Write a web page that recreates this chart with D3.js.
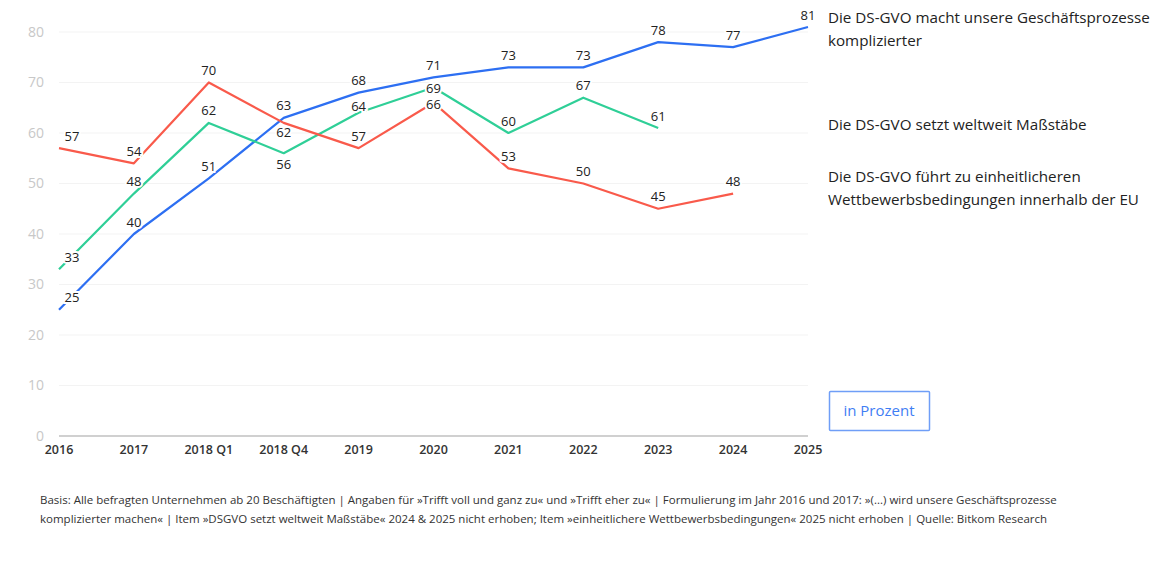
<!DOCTYPE html>
<html>
<head>
<meta charset="utf-8">
<script src="https://cdn.jsdelivr.net/npm/d3@7"></script>
<style>
  body { margin: 0; background: #fff; }
  svg { display: block; font-family: "Open Sans", sans-serif; }
</style>
</head>
<body>
<svg id="chart" width="1172" height="565"></svg>
<script>
const categories = ['2016', '2017', '2018 Q1', '2018 Q4', '2019', '2020', '2021', '2022', '2023', '2024', '2025'];
const komplizierter = [25, 40, 51, 63, 68, 71, 73, 73, 78, 77, 81];
const massstaebe = [33, 48, 62, 56, 64, 69, 60, 67, 61, null, null];
const einheitlich = [57, 54, 70, 62, 57, 66, 53, 50, 45, 48, null];
const yTicks = [0, 10, 20, 30, 40, 50, 60, 70, 80];

const seriesNames = [
  ['Die DS-GVO macht unsere Geschäftsprozesse', 'komplizierter'],
  ['Die DS-GVO setzt weltweit Maßstäbe'],
  ['Die DS-GVO führt zu einheitlicheren', 'Wettbewerbsbedingungen innerhalb der EU']
];
const footnote = [
  'Basis: Alle befragten Unternehmen ab 20 Beschäftigten | Angaben für »Trifft voll und ganz zu« und »Trifft eher zu« | Formulierung im Jahr 2016 und 2017: »(...) wird unsere Geschäftsprozesse',
  'komplizierter machen« | Item »DSGVO setzt weltweit Maßstäbe« 2024 & 2025 nicht erhoben; Item »einheitlichere Wettbewerbsbedingungen« 2025 nicht erhoben | Quelle: Bitkom Research'
];

// Label-Versatz in px (Standard: -12 = über dem Punkt)
const series = [
  { values: komplizierter, color: '#2d6ff2', shift: {}, legendY: 18 },
  { values: massstaebe, color: '#2fcf97', shift: { '2018 Q4': 11, '2019': -6, '2020': 1 }, legendY: 125 },
  { values: einheitlich, color: '#f95a4b', shift: { '2018 Q4': 10, '2020': 2 }, legendY: 177 }
];

const svg = d3.select('#chart');

const x = d3.scalePoint().domain(categories).range([59, 808]);
const y = d3.scaleLinear().domain([0, 80]).range([436, 32]);

// Gitter
svg.append('g')
  .selectAll('line')
  .data(yTicks.filter(d => d > 0))
  .enter()
  .append('line')
  .attr('x1', 59).attr('x2', 808)
  .attr('y1', d => y(d)).attr('y2', d => y(d))
  .attr('stroke', '#f3f3f3')
  .attr('stroke-width', 1);

svg.append('line')
  .attr('x1', 59).attr('x2', 808)
  .attr('y1', y(0)).attr('y2', y(0))
  .attr('stroke', '#d0d0d0')
  .attr('stroke-width', 2);

// Achsen
svg.append('g')
  .selectAll('text')
  .data(yTicks)
  .enter()
  .append('text')
  .attr('x', 44)
  .attr('y', d => y(d))
  .attr('dy', '0.35em')
  .attr('text-anchor', 'end')
  .attr('fill', '#c8c8c8')
  .style('font-size', '14px')
  .text(d => d);

svg.append('g')
  .selectAll('text')
  .data(categories)
  .enter()
  .append('text')
  .attr('x', d => x(d))
  .attr('y', 450)
  .attr('dy', '0.35em')
  .attr('text-anchor', 'middle')
  .attr('fill', '#333')
  .style('font-size', '12.5px')
  .style('font-weight', 600)
  .text(d => d);

// Linien
const line = d3.line()
  .defined(d => d.v != null)
  .x(d => x(d.c))
  .y(d => y(d.v));

series.forEach(s => {
  s.points = categories.map((c, i) => ({ c: c, v: s.values[i] }));
  svg.append('path')
    .datum(s.points)
    .attr('d', line)
    .attr('fill', 'none')
    .attr('stroke', s.color)
    .attr('stroke-width', 2.2)
    .attr('stroke-linejoin', 'round');
});

// Werte
series.forEach(s => {
  svg.append('g')
    .selectAll('text')
    .data(s.points.filter(d => d.v != null))
    .enter()
    .append('text')
    .attr('x', d => x(d.c) + (d.c === '2016' ? 13 : 0))
    .attr('y', d => y(d.v) + (d.c in s.shift ? s.shift[d.c] : -12))
    .attr('dy', '0.35em')
    .attr('text-anchor', 'middle')
    .attr('fill', '#222')
    .attr('stroke', '#fff')
    .attr('stroke-width', 4)
    .attr('paint-order', 'stroke')
    .style('font-size', '13px')
    .text(d => d.v);
});

// Legende
series.forEach((s, i) => {
  let t = svg.append('text')
    .attr('x', 828)
    .attr('y', s.legendY)
    .attr('fill', '#222')
    .style('font-size', '15.2px');
  seriesNames[i].forEach((n, j) => {
    t.append('tspan')
      .attr('x', 828)
      .attr('dy', j === 0 ? '0.35em' : 23)
      .text(n);
  });
});

// in Prozent
svg.append('rect')
  .attr('x', 829.5).attr('y', 391.5)
  .attr('width', 100).attr('height', 39)
  .attr('fill', '#fff')
  .attr('stroke', '#6f9ef7')
  .attr('stroke-width', 1.5)
  .attr('rx', 1);

svg.append('text')
  .attr('x', 879).attr('y', 411)
  .attr('dy', '0.35em')
  .attr('text-anchor', 'middle')
  .attr('fill', '#3f7ef4')
  .style('font-size', '15px')
  .text('in Prozent');

// Fußnote
svg.append('g')
  .selectAll('text')
  .data(footnote)
  .enter()
  .append('text')
  .attr('x', 40)
  .attr('y', (d, i) => 500 + i * 19)
  .attr('dy', '0.35em')
  .attr('fill', '#333')
  .style('font-size', '11.5px')
  .text(d => d);
</script>
</body>
</html>
